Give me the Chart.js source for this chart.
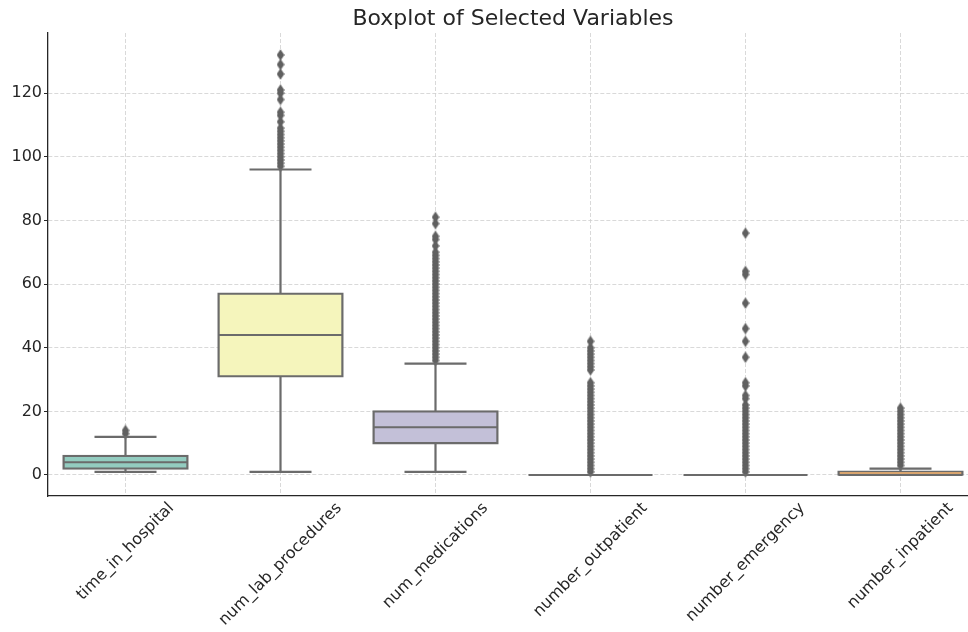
<!DOCTYPE html>
<html>
<head>
<meta charset="utf-8">
<script src="https://cdn.jsdelivr.net/npm/chart.js@4"></script>
<style>
  html, body { margin: 0; padding: 0; background: #fff; overflow: hidden; }
</style>
</head>
<body>
<canvas id="myChart" width="1024" height="632"></canvas>
<script>
// box statistics
const categories = ["time_in_hospital", "num_lab_procedures", "num_medications", "number_outpatient", "number_emergency", "number_inpatient"];
const q1 = [2, 31, 10, 0, 0, 0];
const median = [4, 44, 15, 0, 0, 0];
const q3 = [6, 57, 20, 0, 0, 1];
const whiskerLow = [1, 1, 1, 0, 0, 0];
const whiskerHigh = [12, 96, 35, 0, 0, 2];

// outliers (fliers)
const timeOut = [13, 14];
const labOut = [97, 98, 99, 100, 101, 102, 103, 104, 105, 106, 107, 108, 109, 111, 113, 114, 118, 120, 121, 126, 129, 132];
const medOut = [36, 37, 38, 39, 40, 41, 42, 43, 44, 45, 46, 47, 48, 49, 50, 51, 52, 53, 54, 55, 56, 57, 58, 59, 60, 61, 62, 63, 64, 65, 66, 67, 68, 69, 70, 72, 74, 75, 79, 81];
const outpatientOut = [1, 2, 3, 4, 5, 6, 7, 8, 9, 10, 11, 12, 13, 14, 15, 16, 17, 18, 19, 20, 21, 22, 23, 24, 25, 26, 27, 28, 29, 33, 34, 35, 36, 37, 38, 39, 40, 42];
const emergencyOut = [1, 2, 3, 4, 5, 6, 7, 8, 9, 10, 11, 12, 13, 14, 15, 16, 17, 18, 19, 20, 21, 22, 24, 25, 28, 29, 37, 42, 46, 54, 63, 64, 76];
const inpatientOut = [3, 4, 5, 6, 7, 8, 9, 10, 11, 12, 13, 14, 15, 16, 17, 18, 19, 20, 21];
const outliers = [timeOut, labOut, medOut, outpatientOut, emergencyOut, inpatientOut];

const yTicks = [0, 20, 40, 60, 80, 100, 120];
const boxColors = ["#93ccc0", "#f5f5bc", "#c3c0d8", "#e8988e", "#8fb1c9", "#d8a46e"];

const lineGray = "#6b6b6b";
const textColor = "#262626";
const font = "'DejaVu Sans', sans-serif";

// thin diamond marker like matplotlib's "d"
const diamond = document.createElement("canvas");
diamond.width = 8;
diamond.height = 12;
(function () {
    const c = diamond.getContext("2d");
    c.fillStyle = "#606060";
    c.beginPath();
    c.moveTo(4, 0.2);
    c.lineTo(7.8, 6);
    c.lineTo(4, 11.8);
    c.lineTo(0.2, 6);
    c.closePath();
    c.fill();
})();

const boxPlugin = {
    id: "boxLines",
    afterDraw(chart) {
        const ctx = chart.ctx;
        const xs = chart.scales.x;
        const ys = chart.scales.y;
        const bars = chart.getDatasetMeta(0).data;
        ctx.save();
        ctx.strokeStyle = lineGray;
        ctx.lineWidth = 2.2;
        categories.forEach((c, i) => {
            const cx = xs.getPixelForValue(i);
            const bw = bars[i].width;
            const cap = bw / 4;
            ctx.beginPath();
            // whiskers
            ctx.moveTo(cx, ys.getPixelForValue(q3[i]));
            ctx.lineTo(cx, ys.getPixelForValue(whiskerHigh[i]));
            ctx.moveTo(cx, ys.getPixelForValue(q1[i]));
            ctx.lineTo(cx, ys.getPixelForValue(whiskerLow[i]));
            // caps
            ctx.moveTo(cx - cap, ys.getPixelForValue(whiskerHigh[i]));
            ctx.lineTo(cx + cap, ys.getPixelForValue(whiskerHigh[i]));
            ctx.moveTo(cx - cap, ys.getPixelForValue(whiskerLow[i]));
            ctx.lineTo(cx + cap, ys.getPixelForValue(whiskerLow[i]));
            // median
            ctx.moveTo(cx - bw / 2, ys.getPixelForValue(median[i]));
            ctx.lineTo(cx + bw / 2, ys.getPixelForValue(median[i]));
            ctx.stroke();
        });

        // rotated category labels, centred under each tick like matplotlib
        ctx.fillStyle = textColor;
        ctx.font = "16px " + font;
        ctx.textAlign = "right";
        ctx.textBaseline = "top";
        const h = 16;
        categories.forEach((c, i) => {
            const w = ctx.measureText(c).width;
            const ax = xs.getPixelForValue(i) + (w - h) / (2 * Math.SQRT2);
            ctx.save();
            ctx.translate(ax, xs.top + 4);
            ctx.rotate(-Math.PI / 4);
            ctx.fillText(c, 0, 0);
            ctx.restore();
        });
        ctx.restore();
    }
};

const datasets = [
    {
        type: "bar",
        data: categories.map((c, i) => [q1[i], q3[i]]),
        backgroundColor: boxColors,
        borderColor: lineGray,
        borderWidth: 2.4,
        borderSkipped: false,
        inflateAmount: 1.2,
        barPercentage: 0.8,
        categoryPercentage: 1.0,
        order: 2
    }
];
outliers.forEach((vals, i) => {
    datasets.push({
        type: "line",
        showLine: false,
        data: vals.map(v => ({ x: categories[i], y: v })),
        pointStyle: diamond,
        pointRadius: 5,
        order: 1
    });
});

const ctx = document.getElementById("myChart").getContext("2d");
const myChart = new Chart(ctx, {
    type: "bar",
    data: {
        labels: categories,
        datasets: datasets
    },
    options: {
        responsive: false,
        animation: false,
        layout: { padding: { left: 0, right: 46, top: 0, bottom: 0 } },
        plugins: {
            legend: { display: false },
            tooltip: { enabled: false },
            title: {
                display: true,
                fullSize: false,
                text: "Boxplot of Selected Variables",
                color: textColor,
                font: { family: font, size: 22, weight: "normal", lineHeight: 1 },
                padding: { top: 8, bottom: 3 }
            }
        },
        scales: {
            x: {
                z: 1,
                offset: true,
                grid: { offset: false, color: "#cfcfcf", lineWidth: 0.8, drawTicks: false },
                border: { color: textColor, width: 1.3, dash: [4, 2] },
                ticks: { display: false },
                afterFit(scale) { scale.height = 136; }
            },
            y: {
                z: 1,
                min: -6.6,
                max: 138.9,
                grid: { color: "#cfcfcf", lineWidth: 0.8, tickLength: 4, tickColor: textColor, tickBorderDash: [], tickWidth: 1 },
                border: { color: textColor, width: 1.3, dash: [4, 2] },
                ticks: { color: textColor, font: { family: font, size: 16 }, padding: 2 },
                afterBuildTicks(scale) { scale.ticks = yTicks.map(v => ({ value: v })); },
                afterFit(scale) { scale.width = 48; }
            }
        }
    },
    plugins: [boxPlugin]
});
</script>
</body>
</html>
